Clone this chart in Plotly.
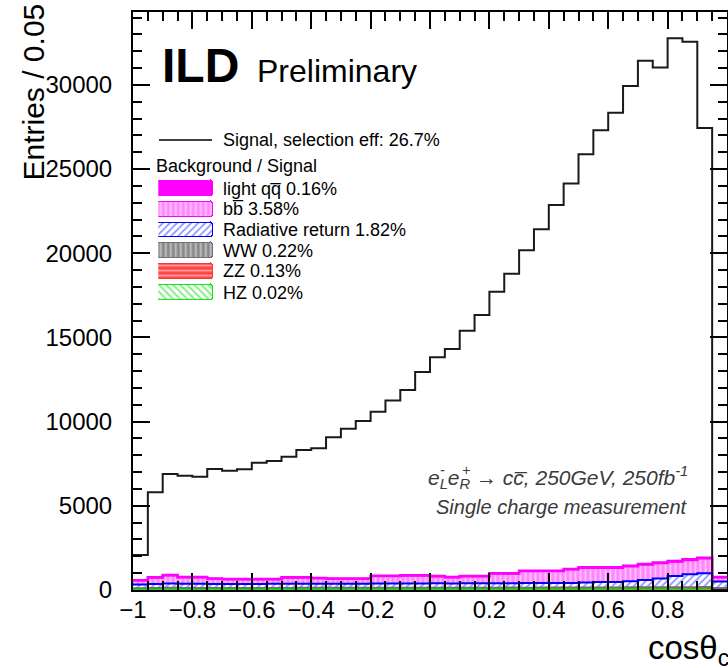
import numpy as np
import plotly.graph_objects as go

# ---------------- data ----------------
bin_low, bin_high, n_bins = -1.0, 1.0, 40

signal = [2080, 5800, 6890, 6790, 6730, 7190, 7090, 7170, 7560, 7660,
          7920, 8320, 8420, 9070, 9580, 10040, 10590, 11250, 11880, 12950,
          13820, 14310, 15400, 16340, 17720, 18790, 20180, 21420, 22870, 24150,
          25880, 27300, 28350, 29940, 31440, 31030, 32770, 32570, 27440, 0]

hz = [6, 7, 8, 8, 7, 8, 8, 7, 8, 8, 8, 9, 8, 8, 9, 9, 8, 9, 9, 9,
      9, 9, 10, 9, 10, 10, 9, 10, 10, 10, 11, 10, 11, 11, 12, 11, 12, 12, 13, 6]
zz = [40, 44, 46, 45, 44, 45, 44, 45, 44, 46, 45, 46, 45, 46, 47, 46, 47, 48, 47, 48,
      48, 49, 48, 50, 49, 50, 51, 50, 52, 51, 53, 52, 54, 55, 54, 56, 57, 58, 60, 40]
ww = [62, 70, 74, 72, 71, 70, 71, 70, 72, 71, 73, 72, 74, 73, 74, 75, 76, 75, 77, 78,
      78, 79, 80, 79, 81, 82, 81, 83, 84, 85, 86, 87, 88, 90, 92, 94, 96, 98, 100, 70]
radret = [222, 239, 252, 245, 243, 237, 232, 238, 236, 240, 244, 243, 238, 243, 240, 245, 249, 253, 252, 255,
          260, 253, 257, 262, 260, 263, 269, 267, 269, 274, 300, 321, 327, 364, 432, 529, 665, 762, 817, 384]
bbbar = [230, 365, 482, 374, 380, 306, 272, 267, 266, 261, 355, 355, 330, 296, 296, 291, 443, 438, 457, 452,
         407, 353, 407, 402, 559, 554, 706, 706, 701, 794, 862, 842, 832, 880, 908, 906, 844, 842, 880, 244]
lightqq = [20, 25, 28, 26, 25, 24, 23, 23, 24, 24, 25, 25, 25, 24, 24, 24, 27, 27, 28, 28,
           28, 27, 28, 28, 31, 31, 34, 34, 34, 36, 38, 38, 38, 40, 42, 44, 46, 48, 50, 26]

x_tickvals = [-1, -0.8, -0.6, -0.4, -0.2, 0, 0.2, 0.4, 0.6, 0.8, 1]
x_ticktext = ["\u22121", "\u22120.8", "\u22120.6", "\u22120.4", "\u22120.2", "0",
              "0.2", "0.4", "0.6", "0.8", "1"]
y_tickvals = [0, 5000, 10000, 15000, 20000, 25000, 30000]
y_ticktext = ["0", "5000", "10000", "15000", "20000", "25000", "30000"]

signal_label = "Signal, selection eff: 26.7%"
legend_header = "Background / Signal"
# legend order (top -> bottom)
bg_labels = ["light qq\u0305 0.16%", "bb\u0305 3.58%", "Radiative return 1.82%",
             "WW 0.22%", "ZZ 0.13%", "HZ 0.02%"]

# ---------------- styles ----------------
W, H = 728, 668
FONT = "Liberation Sans, Arial, Helvetica, sans-serif"

bg_series = [lightqq, bbbar, radret, ww, zz, hz]
bg_styles = [
    dict(line="#ff00ff", bg="#ff00ff", fg="#ff00ff", shape="", lw=2.5, z=0),
    dict(line="#ff00ff", bg="#ff88ff", fg="#ffffff", shape="|", lw=2.0, z=1),
    dict(line="#0000ff", bg="#ffffff", fg="#2233ff", shape="/", lw=2.0, z=2),
    dict(line="#707070", bg="#8a8a8a", fg="#ffffff", shape="|", lw=2.0, z=4),
    dict(line="#ff3030", bg="#ff4444", fg="#ffffff", shape="-", lw=1.0, z=3),
    dict(line="#00ee00", bg="#ffffff", fg="#00dd00", shape="\\", lw=2.0, z=5),
]


def px_x(p):
    return p / W


def px_y(p):
    return (H - p) / H


edges = np.linspace(bin_low, bin_high, n_bins + 1)
centers = 0.5 * (edges[:-1] + edges[1:])
bw = edges[1] - edges[0]

fig = go.Figure()

# stacked backgrounds: bottom -> top = HZ, ZZ, WW, Rad, bb, light qq
order = list(range(len(bg_series)))[::-1]
cum = np.zeros(n_bins)
outlines = []
for i in order:
    st = bg_styles[i]
    vals = np.array(bg_series[i], dtype=float)
    pattern = dict(shape=st["shape"], fgcolor=st["fg"], bgcolor=st["bg"],
                   size=5, solidity=0.35) if st["shape"] else None
    fig.add_trace(go.Bar(
        x=centers, y=vals, width=bw, offset=-bw / 2,
        marker=dict(color=st["bg"], line=dict(width=0), pattern=pattern),
        showlegend=False, hoverinfo="skip"))
    cum = cum + vals
    outlines.append((cum.copy(), st))

# outlines: upper layers first, lower layers drawn over them
for c, st in sorted(outlines, key=lambda t: t[1]["z"]):
    fig.add_trace(go.Scatter(
        x=edges, y=list(c) + [c[-1]], mode="lines", line_shape="hv",
        line=dict(color=st["line"], width=st["lw"]),
        showlegend=False, hoverinfo="skip"))

# signal step line
fig.add_trace(go.Scatter(
    x=edges, y=list(signal) + [signal[-1]], mode="lines", line_shape="hv",
    line=dict(color="#1a1a1a", width=2), showlegend=False, hoverinfo="skip"))

# legend swatches (helper axes)
for i, st in enumerate(bg_styles):
    pattern = dict(shape=st["shape"], fgcolor=st["fg"], bgcolor=st["bg"],
                   size=5, solidity=0.35) if st["shape"] else None
    fig.add_trace(go.Bar(
        x=[1], y=[i], orientation="h", width=0.72, xaxis="x2", yaxis="y2",
        marker=dict(color=st["bg"], line=dict(color=st["line"], width=1.5),
                    pattern=pattern, cornerradius=3),
        showlegend=False, hoverinfo="skip"))

axis_common = dict(showline=True, linecolor="black", linewidth=2, mirror="ticks",
                   ticks="inside", ticklen=17, tickwidth=1.5, tickcolor="black",
                   showgrid=False, zeroline=False, automargin=False,
                   tickfont=dict(family=FONT, size=24, color="black"))

fig.update_layout(
    width=W, height=H, autosize=False,
    margin=dict(l=0, r=0, t=0, b=0),
    paper_bgcolor="white", plot_bgcolor="white",
    barmode="stack", bargap=0, showlegend=False,
    xaxis=dict(domain=[px_x(133), px_x(727)], range=[bin_low, bin_high],
               tickmode="array", tickvals=x_tickvals, ticktext=x_ticktext,
               ticklabelstandoff=-3,
               minor=dict(ticks="inside", ticklen=9, tickwidth=1.5, tickcolor="black",
                          dtick=0.05, tick0=-1),
               **axis_common),
    yaxis=dict(domain=[px_y(590), px_y(12)], range=[0, 34330],
               tickmode="array", tickvals=y_tickvals, ticktext=y_ticktext,
               ticklabelstandoff=14,
               minor=dict(ticks="inside", ticklen=9, tickwidth=1.5, tickcolor="black",
                          dtick=1000, tick0=0),
               **axis_common),
    xaxis2=dict(domain=[px_x(158.3), px_x(213.5)], range=[0, 1], visible=False,
                anchor="y2", fixedrange=True),
    yaxis2=dict(domain=[px_y(302.9), px_y(178.1)], range=[5.5, -0.5], visible=False,
                anchor="x2", fixedrange=True),
)

ann = []
# axis titles
ann.append(dict(text="Entries / 0.05", x=px_x(33), y=px_y(2), xref="paper", yref="paper",
                xanchor="center", yanchor="top", textangle=-90, showarrow=False,
                font=dict(family=FONT, size=30, color="black")))
ann.append(dict(text="cos\u03b8<sub>c</sub>", x=px_x(646), y=px_y(650), xref="paper", yref="paper",
                xanchor="left", yanchor="middle", showarrow=False,
                font=dict(family=FONT, size=33, color="black")))
# ILD Preliminary
ann.append(dict(text="<b>ILD</b>", x=px_x(160), y=px_y(66), xref="paper", yref="paper",
                xanchor="left", yanchor="middle", showarrow=False,
                font=dict(family=FONT, size=48, color="black")))
ann.append(dict(text="Preliminary", x=px_x(255), y=px_y(71), xref="paper", yref="paper",
                xanchor="left", yanchor="middle", showarrow=False,
                font=dict(family=FONT, size=32, color="black")))
# legend texts
ann.append(dict(text=signal_label, x=px_x(221), y=px_y(140), xref="paper", yref="paper",
                xanchor="left", yanchor="middle", showarrow=False,
                font=dict(family=FONT, size=18, color="black")))
ann.append(dict(text=legend_header, x=px_x(154), y=px_y(166), xref="paper", yref="paper",
                xanchor="left", yanchor="middle", showarrow=False,
                font=dict(family=FONT, size=18, color="black")))
row_y = [188.5, 209, 229.5, 250.5, 271, 292.5]
for lab, yy in zip(bg_labels, row_y):
    ann.append(dict(text=lab, x=px_x(221), y=px_y(yy), xref="paper", yref="paper",
                    xanchor="left", yanchor="middle", showarrow=False,
                    font=dict(family=FONT, size=18, color="black")))
# process text
ann.append(dict(text="<i>e<sub>L</sub>e<sub>R</sub> \u2192 cc\u0305, 250GeV, 250fb<sup>-1</sup></i>",
                x=px_x(426), y=px_y(478), xref="paper", yref="paper",
                xanchor="left", yanchor="middle", showarrow=False,
                font=dict(family=FONT, size=21, color="#3a3a3a")))
ann.append(dict(text="<i>-</i>", x=px_x(443), y=px_y(470), xref="paper", yref="paper",
                xanchor="center", yanchor="middle", showarrow=False,
                font=dict(family=FONT, size=14, color="#3a3a3a")))
ann.append(dict(text="<i>+</i>", x=px_x(466), y=px_y(470), xref="paper", yref="paper",
                xanchor="center", yanchor="middle", showarrow=False,
                font=dict(family=FONT, size=14, color="#3a3a3a")))
ann.append(dict(text="<i>Single charge measurement</i>", x=px_x(690), y=px_y(507),
                xref="paper", yref="paper", xanchor="right", yanchor="middle", showarrow=False,
                font=dict(family=FONT, size=20, color="#3a3a3a")))
fig.update_layout(annotations=ann)

# legend line sample for the signal
fig.add_shape(type="line", xref="paper", yref="paper",
              x0=px_x(159), x1=px_x(212), y0=px_y(140), y1=px_y(140),
              line=dict(color="black", width=1.5))

fig.write_html("out.html", config={"displayModeBar": False},
               post_script="document.body.style.margin='0px';document.body.style.overflow='hidden';")
